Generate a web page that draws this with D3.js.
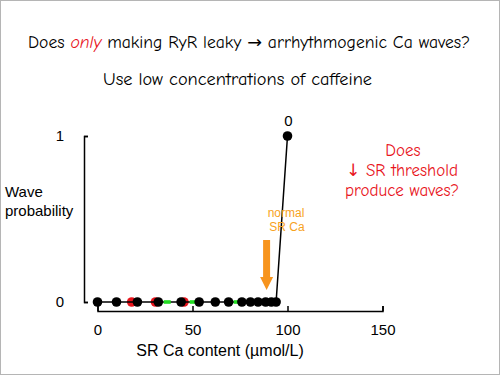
<!DOCTYPE html>
<html lang="en">
<head>
  <meta charset="UTF-8">
  <title>Wave probability vs SR Ca content</title>
  <style>
    body { margin: 0; background: #fff; }
    .comic { font-family: "Comic Sans MS", "Comic Neue", "DejaVu Sans", sans-serif; }
    .arial { font-family: Arial, "Liberation Sans", sans-serif; }
  </style>
  <script src="https://d3js.org/d3.v7.min.js"></script>
</head>
<body>
  <div id="chart"></div>
  <script>
    const blackCa = [0, 10, 21, 32, 44, 53.5, 62, 69, 76, 80.5, 84.5, 88.5, 91.5, 94, 100];
    const blackProb = [0, 0, 0, 0, 0, 0, 0, 0, 0, 0, 0, 0, 0, 0, 1];
    const redCa = [18, 30.5, 45.5];
    const redProb = [0, 0, 0];
    const greenCa = [36.7, 50.4, 73.5];
    const greenProb = [0, 0, 0];
    const xTicks = [0, 50, 100, 150];
    const yTicks = [0, 1];
    const normalSrCa = 89;

    const W = 500, H = 375;
    const svg = d3.select("#chart").append("svg")
      .attr("width", W).attr("height", H);

    svg.append("rect")
      .attr("x", 0.5).attr("y", 0.5)
      .attr("width", W - 1).attr("height", H - 1)
      .attr("fill", "#fff").attr("stroke", "#b5b5b5");

    // titles
    const title = svg.append("text").attr("class", "comic")
      .attr("x", 28).attr("y", 48)
      .style("font-size", "17px")
      .attr("textLength", 442).attr("lengthAdjust", "spacingAndGlyphs");
    title.append("tspan").text("Does ");
    title.append("tspan").attr("fill", "#e8141c").style("font-style", "italic").text("only");
    title.append("tspan").text(" making RyR leaky \u2192 arrhythmogenic Ca waves?");

    svg.append("text").attr("class", "comic")
      .attr("x", 103).attr("y", 85)
      .style("font-size", "17px")
      .attr("textLength", 269).attr("lengthAdjust", "spacingAndGlyphs")
      .text("Use low concentrations of caffeine");

    const x = d3.scaleLinear().domain([0, 150]).range([97.5, 382.5]);
    const y = d3.scaleLinear().domain([0, 1]).range([302, 136]);

    // y axis: bracket at x=84
    const yAxis = svg.append("g").attr("class", "arial")
      .attr("transform", "translate(84,0)")
      .call(d3.axisLeft(y).tickValues(yTicks).tickFormat(d3.format("d"))
        .tickSizeInner(-4).tickSizeOuter(-4).tickPadding(20));
    yAxis.selectAll("path, line").attr("stroke", "#000").attr("stroke-width", 1.5);
    yAxis.selectAll("text").style("font-size", "15px").attr("fill", "#000")
      .style("font-family", "Arial, 'Liberation Sans', sans-serif");

    // x axis at y=311 with upward ticks
    const xAxis = svg.append("g")
      .attr("transform", "translate(0,311)")
      .call(d3.axisBottom(x).tickValues(xTicks)
        .tickSizeInner(-5).tickSizeOuter(-5).tickPadding(13));
    xAxis.selectAll("path, line").attr("stroke", "#000").attr("stroke-width", 1.5);
    xAxis.selectAll("text").style("font-size", "15px").attr("fill", "#000")
      .style("font-family", "Arial, 'Liberation Sans', sans-serif");

    svg.append("text").attr("class", "arial")
      .attr("x", 220).attr("y", 356)
      .attr("text-anchor", "middle")
      .style("font-size", "16px")
      .text("SR Ca content (\u00b5mol/L)");

    const yl = svg.append("text").attr("class", "arial").style("font-size", "15px");
    yl.append("tspan").attr("x", 5).attr("y", 197).text("Wave");
    yl.append("tspan").attr("x", 5).attr("y", 216).text("probability");

    // red series (behind)
    svg.append("g").selectAll("circle")
      .data(redCa.map((d, i) => [d, redProb[i]]))
      .join("circle")
      .attr("cx", d => x(d[0])).attr("cy", d => y(d[1]))
      .attr("r", 4.8).attr("fill", "#e8141c");

    // black line
    const blackData = blackCa.map((d, i) => [d, blackProb[i]]);
    svg.append("path")
      .datum(blackData)
      .attr("fill", "none").attr("stroke", "#000").attr("stroke-width", 1.5)
      .attr("d", d3.line().x(d => x(d[0])).y(d => y(d[1])));

    // green markers
    svg.append("g").selectAll("rect")
      .data(greenCa.map((d, i) => [d, greenProb[i]]))
      .join("rect")
      .attr("x", d => x(d[0]) - 3.5).attr("y", d => y(d[1]) - 1.8)
      .attr("width", 7).attr("height", 3.6)
      .attr("fill", "#22dd22");

    // black points
    svg.append("g").selectAll("circle")
      .data(blackData)
      .join("circle")
      .attr("cx", d => x(d[0])).attr("cy", d => y(d[1]))
      .attr("r", 4.8).attr("fill", "#000");

    // label above top point
    svg.append("text").attr("class", "arial")
      .attr("x", x(100) + 1).attr("y", y(1) - 10)
      .attr("text-anchor", "middle")
      .style("font-size", "15px")
      .text("0");

    // normal SR Ca arrow
    const ax = x(normalSrCa);
    svg.append("path")
      .attr("d", `M${ax - 3.5},240 H${ax + 3.5} V277 H${ax + 6.5} L${ax},290 L${ax - 6.5},277 H${ax - 3.5} Z`)
      .attr("fill", "#f7941d");
    const nl = svg.append("text").attr("class", "arial")
      .attr("text-anchor", "middle")
      .attr("fill", "#f7a21d")
      .style("font-size", "12px");
    nl.append("tspan").attr("x", 286).attr("y", 217).text("normal");
    nl.append("tspan").attr("x", 287).attr("y", 231).text("SR Ca");

    // red question
    const q = svg.append("text").attr("class", "comic")
      .attr("fill", "#e8141c")
      .attr("text-anchor", "middle")
      .style("font-size", "17px");
    q.append("tspan").attr("x", 403).attr("y", 156).text("Does");
    q.append("tspan").attr("x", 402).attr("y", 176).text("\u2193 SR threshold");
    q.append("tspan").attr("x", 402).attr("y", 196).text("produce waves?");
  </script>
</body>
</html>
